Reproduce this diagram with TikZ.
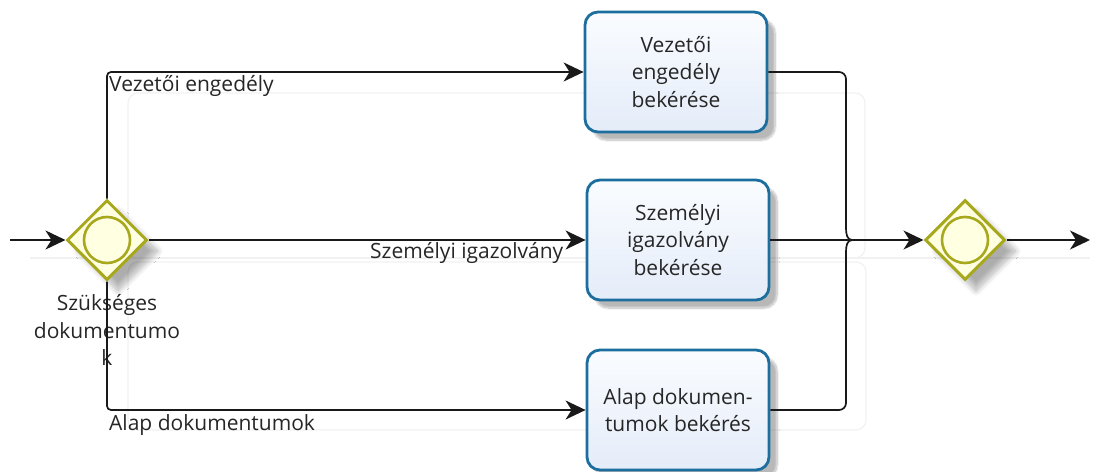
\documentclass[tikz,border=0pt]{standalone}
\usepackage{fontspec}
\setmainfont{Open Sans}
\usetikzlibrary{shapes.geometric,arrows.meta,shadows.blur,calc}
\definecolor{gwline}{HTML}{A8A81E}
\definecolor{gwfill}{HTML}{FFFFE2}
\definecolor{taskline}{HTML}{1C6E9E}
\definecolor{tasktop}{HTML}{FAFCFF}
\definecolor{taskbot}{HTML}{E4ECF9}
\definecolor{txt}{HTML}{262626}
\definecolor{ghost}{HTML}{F1F1F1}
\tikzset{
  x=1pt, y=-1pt,
  gateway/.style={diamond, aspect=1, minimum width=80pt, minimum height=80pt, inner sep=0pt,
    draw=gwline, line width=3pt, fill=gwfill,
    blur shadow={shadow xshift=11pt, shadow yshift=-11pt, shadow opacity=32, shadow blur steps=12, shadow blur radius=6pt}},
  ring/.style={circle, minimum size=46pt, inner sep=0pt, draw=gwline, line width=2.6pt},
  taskbox/.style={rectangle, rounded corners=13pt, minimum width=182pt, minimum height=120pt,
    draw=taskline, line width=2.8pt, top color=tasktop, bottom color=taskbot,
    align=center, font=\fontsize{21}{27.5}\selectfont, text=txt,
    blur shadow={shadow xshift=8pt, shadow yshift=-8pt, shadow opacity=28, shadow blur steps=10}},
  flow/.style={line width=1.7pt, draw=black!90},
  tip/.style={-{Stealth[length=20pt, width=19pt, inset=6pt]}},
  flowlabel/.style={font=\fontsize{21}{22}\selectfont, text=txt, inner sep=0pt},
  faint/.style={draw=ghost, line width=1.2pt, rounded corners=10pt},
}
\begin{document}
\begin{tikzpicture}
\useasboundingbox (0,0) rectangle (1097,471);
% faint background frames
\draw[faint] (128,93) rectangle (865,258);
\draw[faint] (128,262) rectangle (866,430);
\draw[ghost, line width=1.2pt] (30,258) -- (1090,258);

% nodes
\node[gateway] (g1) at (107,240) {};
\node[ring] (r1) at (g1.center) {};
\node[align=center, font=\fontsize{21}{27.5}\selectfont, text=txt, anchor=north] (g1lab) at (107,291)
  {Szükséges\\dokumentumo\\k};

\node[taskbox] (t1) at (676,72) {Vezetői\\engedély\\bekérése};
\node[taskbox] (t2) at (678,240) {Személyi\\igazolvány\\bekérése};
\node[taskbox] (t3) at (678,410) {Alap dokumen-\\tumok bekérés};

\node[gateway] (g2) at (965,240) {};
\node[ring] (r2) at (g2.center) {};

\coordinate (in) at (10,240);
\coordinate (out) at (1090,240);
\coordinate (bx) at (846,240);
\coordinate (j) at (852,240);

% sequence flows
\draw[flow, tip] (in) -- (g1.west);
\draw[flow, tip, rounded corners=4pt] (g1.north) |- (t1.west);
\draw[flow, tip] (g1.east) -- (t2.west);
\draw[flow, tip, rounded corners=4pt] (g1.south) |- (t3.west);

\draw[flow, rounded corners=7pt] (t1.east) -| ($(bx)+(0,-12)$);
\draw[flow] ($(bx)+(0,-12)$) to[out=270, in=180] (j);
\draw[flow, rounded corners=7pt] (t3.east) -| ($(bx)+(0,12)$);
\draw[flow] ($(bx)+(0,12)$) to[out=90, in=180] (j);
\draw[flow, tip] (t2.east) -- (g2.west);
\draw[flow, tip] (g2.east) -- (out);

% flow labels
\node[flowlabel, anchor=west] (l1) at (109,86) {Vezetői engedély};
\node[flowlabel, anchor=west] (l2) at (370,253) {Személyi igazolvány};
\node[flowlabel, anchor=west] (l3) at (109,425) {Alap dokumentumok};
\end{tikzpicture}
\end{document}
